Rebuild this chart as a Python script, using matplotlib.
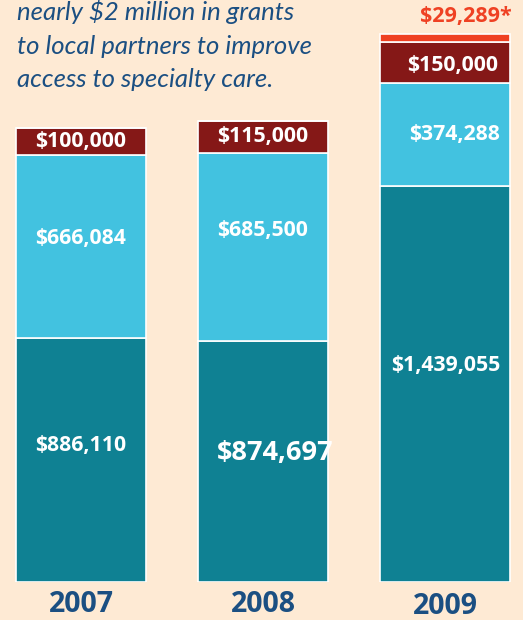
import matplotlib
matplotlib.use("Agg")
import matplotlib.pyplot as plt
import numpy as np

# grant amounts per year, stacked bottom to top
years = ["2007", "2008", "2009"]
core = [886110, 874697, 1439055]
specialty = [666084, 685500, 374288]
other = [100000, 115000, 150000]
extra = [0, 0, 29289]

bg = "#FEEAD4"
navy = "#1B4F82"
colors = ["#0F8193", "#42C2E0", "#851817", "#EF4123"]
bold_font = "Open Sans"

fig = plt.figure(figsize=(5.23, 6.2), dpi=100, facecolor=bg)
ax = fig.add_axes([0, 38 / 620, 1, 582 / 620])
ax.set_facecolor(bg)
px = 3636.0  # dollars per pixel
ax.set_ylim(0, 582 * px)
ax.set_xlim(-0.445, 2.4286)
ax.axis("off")

x = np.arange(len(years))
w = 130 / 182
bottom = np.zeros(3)
bars = []
for vals, c in zip([core, specialty, other, extra], colors):
    b = ax.bar(x, vals, w, bottom=bottom, color=c, edgecolor="white", linewidth=1.2)
    bars.append(b)
    bottom += np.array(vals)

fs = 15.3
lab = dict(color="white", fontweight="bold", family=bold_font, va="center")

# 2007
ax.text(0, core[0] / 2 + 15 * px, "$886,110", ha="center", fontsize=fs, **lab)
ax.text(0, core[0] + specialty[0] / 2 + 8 * px, "$666,084", ha="center", fontsize=fs, **lab)
ax.text(0, core[0] + specialty[0] + other[0] / 2, "$100,000", ha="center", fontsize=fs, **lab)
# 2008
t = ax.text(1 - 0.255, core[1] / 2 + 9 * px, "$874,697", ha="left", fontsize=19.5, **lab)
t.set_clip_path(bars[0][1])
ax.text(1, core[1] + specialty[1] / 2 + 17 * px, "$685,500", ha="center", fontsize=fs, **lab)
ax.text(1, core[1] + specialty[1] + other[1] / 2 + 1 * px, "$115,000", ha="center", fontsize=fs, **lab)
# 2009
ax.text(2.302, core[2] / 2 + 19 * px, "$1,439,055", ha="right", fontsize=fs, **lab)
ax.text(2.302, core[2] + specialty[2] / 2, "$374,288", ha="right", fontsize=fs, **lab)
ax.text(2.29, core[2] + specialty[2] + other[2] / 2 - 3 * px, "$150,000", ha="right", fontsize=fs, **lab)
ax.text(2.367, sum(v[2] for v in [core, specialty, other, extra]) + 17 * px, "$29,289*",
        ha="right", va="center", fontsize=15.5, fontweight="bold", family=bold_font, color="#EF4123")

# year labels under bars
for i, yr in enumerate(years):
    off = 23 if i < 2 else 25
    ax.text(i, -off * px, yr, ha="center", va="center", fontsize=20.5, fontweight="bold",
            family=bold_font, color=navy, clip_on=False)

# heading text
lines = ["nearly $2 million in grants", "to local partners to improve", "access to specialty care."]
for i, s in enumerate(lines):
    fig.text(17 / 523, 1 - (20 + 33.5 * i) / 620, s, ha="left", va="baseline", fontsize=18.5,
             style="italic", family="Lato", color=navy)

fig.savefig("out.png", dpi=100, facecolor=bg)
